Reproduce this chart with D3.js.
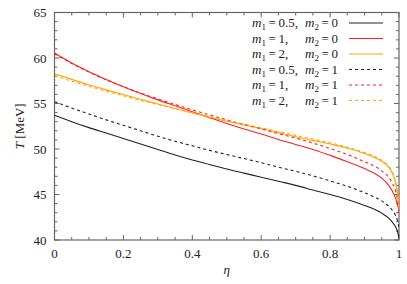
<!DOCTYPE html>
<html><head><meta charset="utf-8">
<script src="https://cdn.jsdelivr.net/npm/d3@7"></script>
<style>body{margin:0;background:#fff}svg{display:block}</style>
</head><body><svg id="c" width="407" height="284" font-family="'Liberation Serif', 'Times New Roman', 'DejaVu Serif', serif"></svg>
<script>
const eta = [0,0.05,0.1,0.15,0.2,0.25,0.3,0.35,0.4,0.45,0.5,0.55,0.6,0.65,0.7,0.75,0.8,0.85,0.9,0.93,0.95,0.97,0.98,0.99,0.995,0.998,1];
const m05_0 = [53.7,53.0,52.35,51.75,51.15,50.55,49.95,49.35,48.8,48.3,47.8,47.35,46.9,46.45,46.0,45.5,45.0,44.45,43.8,43.35,42.95,42.4,42.0,41.45,41.0,40.6,40.2];
const m1_0 = [60.55,59.45,58.5,57.65,56.85,56.1,55.4,54.75,54.1,53.45,52.8,52.2,51.65,51.05,50.5,49.95,49.3,48.6,47.85,47.3,46.8,46.0,45.4,44.6,44.0,43.5,43.0];
const m2_0 = [58.28,57.65,57.05,56.5,55.98,55.45,54.95,54.45,53.95,53.5,53.05,52.65,52.25,51.8,51.35,50.95,50.55,50.1,49.5,49.05,48.65,48.0,47.4,46.3,45.3,44.3,43.3];
const m05_1 = [55.2,54.5,53.85,53.2,52.6,52.0,51.4,50.85,50.35,49.85,49.4,48.95,48.5,48.0,47.55,47.05,46.5,45.9,45.2,44.7,44.3,43.7,43.3,42.7,42.2,41.8,41.3];
const m1_1 = [60.45,59.4,58.45,57.6,56.85,56.15,55.5,54.9,54.3,53.75,53.2,52.7,52.2,51.7,51.2,50.65,50.05,49.4,48.6,48.1,47.6,46.9,46.3,45.4,44.6,43.9,43.2];
const m2_1 = [58.05,57.45,56.9,56.35,55.85,55.35,54.9,54.45,54.0,53.55,53.12,52.72,52.33,51.93,51.5,51.1,50.68,50.2,49.6,49.15,48.75,48.1,47.5,46.4,45.4,44.4,43.4];
const labels1 = ["=\u20090.5,","=\u20091,","=\u20092,","=\u20090.5,","=\u20091,","=\u20092,"];
const labels2 = ["=\u20090","=\u20090","=\u20090","=\u20091","=\u20091","=\u20091"];
const colors = ["#222222","#ff2020","#ffa500","#222222","#ff2020","#ffa500"];
const dashed = [false,false,false,true,true,true];
const xTicks = [0,0.2,0.4,0.6,0.8,1];
const yTicks = [40,45,50,55,60,65];

const series = [m05_0,m1_0,m2_0,m05_1,m1_1,m2_1];
const FF = "'Liberation Serif', 'Times New Roman', 'DejaVu Serif', serif";
const svg = d3.select("#c");
const L=54.5, R=399, T=12.5, B=240;
const x = d3.scaleLinear().domain([0,1]).range([L,R]);
const y = d3.scaleLinear().domain([40,65]).range([B,T]);
const axCol="#666";

const g = svg.append("g");
const xMinor = d3.range(0,1.0001,0.05);
const yMinor = d3.range(40,65.001,1);
xMinor.forEach(v=>{
  const isMaj = Math.abs(v*5-Math.round(v*5))<1e-6;
  const len = isMaj?5:3;
  g.append("line").attr("x1",x(v)).attr("x2",x(v)).attr("y1",B).attr("y2",B-len).attr("stroke",axCol);
  g.append("line").attr("x1",x(v)).attr("x2",x(v)).attr("y1",T).attr("y2",T+len).attr("stroke",axCol);
});
yMinor.forEach(v=>{
  const isMaj = v%5===0;
  const len = isMaj?5:3;
  g.append("line").attr("x1",L).attr("x2",L+len).attr("y1",y(v)).attr("y2",y(v)).attr("stroke",axCol);
  g.append("line").attr("x1",R).attr("x2",R-len).attr("y1",y(v)).attr("y2",y(v)).attr("stroke",axCol);
});
svg.append("rect").attr("x",L).attr("y",T).attr("width",R-L).attr("height",B-T).attr("fill","none").attr("stroke",axCol).attr("stroke-width",1.2);

function txt(){ return svg.append("text").attr("font-family",FF).attr("fill","#222"); }
xTicks.forEach(v=>txt().attr("x",x(v)).attr("y",B+18).attr("text-anchor","middle").attr("font-size",13).text(d3.format("")(v)));
yTicks.forEach(v=>txt().attr("x",L-8).attr("y",y(v)+4.5).attr("text-anchor","end").attr("font-size",13).text(v));

txt().attr("x",x(0.5)).attr("y",274).attr("text-anchor","middle").attr("font-size",13).attr("font-style","italic").text("η");
const yl = txt().attr("transform",`translate(24,${(T+B)/2}) rotate(-90)`).attr("text-anchor","middle").attr("font-size",13);
yl.append("tspan").attr("font-style","italic").text("T");
yl.append("tspan").text(" [MeV]");

const line = d3.line().x((d,i)=>x(eta[i])).y(d=>y(d)).curve(d3.curveMonotoneX);
svg.append("clipPath").attr("id","cp").append("rect").attr("x",L).attr("y",T).attr("width",R-L).attr("height",B-T+1);
series.forEach((s,k)=>{
  svg.append("path").attr("d",line(s)).attr("fill","none").attr("stroke",colors[k]).attr("stroke-width",1.1)
    .attr("stroke-dasharray",dashed[k]?"3,3":null).attr("clip-path","url(#cp)");
});

const ly0=23, ldy=15.5;
labels1.forEach((lab,k)=>{
  const yy = ly0+k*ldy;
  const t1 = txt().attr("x",252).attr("y",yy+4).attr("font-size",13);
  t1.append("tspan").attr("font-style","italic").text("m");
  t1.append("tspan").attr("font-size",9).attr("dy",3).text("1");
  t1.append("tspan").attr("dy",-3).text("\u2009"+lab);
  const t2 = txt().attr("x",305).attr("y",yy+4).attr("font-size",13);
  t2.append("tspan").attr("font-style","italic").text("m");
  t2.append("tspan").attr("font-size",9).attr("dy",3).text("2");
  t2.append("tspan").attr("dy",-3).text("\u2009"+labels2[k]);
  svg.append("line").attr("x1",349).attr("x2",383).attr("y1",yy).attr("y2",yy).attr("stroke",colors[k]).attr("stroke-width",1.1)
    .attr("stroke-dasharray",dashed[k]?"3,3":null);
});
</script></body></html>
